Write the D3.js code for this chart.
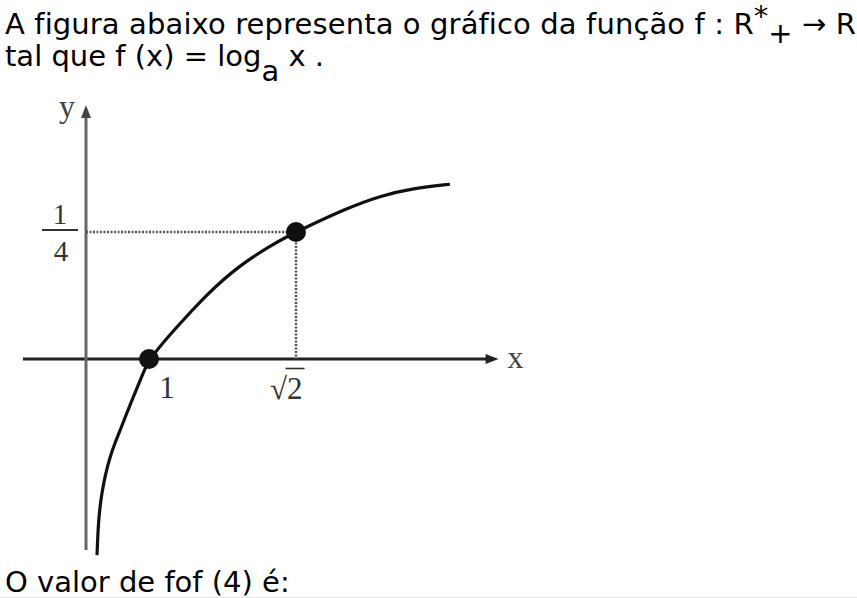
<!DOCTYPE html>
<html><head><meta charset="utf-8">
<script src="https://cdn.jsdelivr.net/npm/d3@7"></script>
<style>html,body{margin:0;padding:0;background:#fff;overflow:hidden}</style>
</head><body>
<script>
// ---- data (figure units: x along the horizontal axis, y = f(x)) ----
const curveX = [0.175, 0.190, 0.214, 0.254, 0.310, 0.381, 0.460, 0.556, 0.667, 0.778, 0.889, 1.000, 1.068, 1.163, 1.256, 1.349, 1.414, 1.558, 1.651, 1.744, 1.848];
const curveY = [-0.386, -0.337, -0.298, -0.262, -0.226, -0.193, -0.165, -0.136, -0.100, -0.067, -0.033, 0.000, 0.055, 0.128, 0.185, 0.226, 0.250, 0.297, 0.321, 0.336, 0.344];
const markedX = [1, Math.SQRT2];
const markedY = [0, 0.25];
const xTickLabels = ["1", "2"];          // "2" is drawn under a radical: √2
const yFracNum = "1", yFracDen = "4";
const xAxisExtent = [-1, 1.985];
const yAxisExtent = [-0.376, 0.5];
const axisNames = ["x", "y"];
const line1 = ["A figura abaixo representa o gráfico da função f : R", "*", "+", " → R"];
const line2 = ["tal que f (x) = log", "a", " x ."];
const line3 = "O valor de fof (4) é:";

const W = 857, H = 598;
const svg = d3.select("body").append("svg").attr("width", W).attr("height", H);

const x = d3.scaleLinear().domain([0, 1, Math.SQRT2]).range([86, 149, 296]);
const y = d3.scaleLinear().domain([0, 0.25]).range([359, 232]);

const sans = "'DejaVu Sans', sans-serif";
const serif = "'Liberation Serif', 'Times New Roman', serif";
const FS = 29;

// ---- text ----
const t1 = svg.append("text").attr("x", 5).attr("y", 34).attr("letter-spacing", 0.12)
  .attr("font-family", sans).attr("font-size", FS).attr("fill", "#000");
t1.append("tspan").text(line1[0]);
t1.append("tspan").attr("dy", -8).text(line1[1]);
t1.append("tspan").attr("dy", 17).text(line1[2]);
t1.append("tspan").attr("dy", -9).text(line1[3]);

const t2 = svg.append("text").attr("x", 5).attr("y", 66)
  .attr("font-family", sans).attr("font-size", FS).attr("fill", "#000");
t2.append("tspan").text(line2[0]);
t2.append("tspan").attr("dy", 15).text(line2[1]);
t2.append("tspan").attr("dy", -15).text(line2[2]);

svg.append("text").attr("x", 5).attr("y", 592)
  .attr("font-family", sans).attr("font-size", FS).attr("fill", "#000").text(line3);

svg.append("line").attr("x1", 0).attr("x2", W).attr("y1", 597.5).attr("y2", 597.5)
  .attr("stroke", "#e6e6e6").attr("stroke-width", 1);

// ---- axes ----
const x0 = x(0), y0 = y(0);
const xa1 = x(xAxisExtent[0]), xa2 = x(xAxisExtent[1]);
const ya1 = y(yAxisExtent[0]), ya2 = y(yAxisExtent[1]);

svg.append("line").attr("x1", xa1).attr("x2", xa2 - 8).attr("y1", y0).attr("y2", y0)
  .attr("stroke", "#222").attr("stroke-width", 3);
svg.append("path").attr("d", `M${xa2},${y0} L${xa2 - 13},${y0 - 5} L${xa2 - 13},${y0 + 5} Z`).attr("fill", "#222");

svg.append("line").attr("x1", x0).attr("x2", x0).attr("y1", ya1).attr("y2", ya2 + 8)
  .attr("stroke", "#666").attr("stroke-width", 3);
svg.append("path").attr("d", `M${x0},${ya2} L${x0 - 5},${ya2 + 13} L${x0 + 5},${ya2 + 13} Z`).attr("fill", "#444");

svg.append("text").attr("x", x(xAxisExtent[1]) + 9).attr("y", y0 + 9)
  .attr("font-family", serif).attr("font-size", 32).attr("fill", "#444").text(axisNames[0]);
svg.append("text").attr("x", x0 - 27).attr("y", ya2 + 12)
  .attr("font-family", serif).attr("font-size", 32).attr("fill", "#444").text(axisNames[1]);

// ---- guide (dotted) lines ----
svg.append("line").attr("x1", x0).attr("x2", x(markedX[1])).attr("y1", y(markedY[1])).attr("y2", y(markedY[1]))
  .attr("stroke", "#555").attr("stroke-width", 2.5).attr("stroke-dasharray", "2,1.5");
svg.append("line").attr("x1", x(markedX[1])).attr("x2", x(markedX[1])).attr("y1", y(markedY[1])).attr("y2", y0)
  .attr("stroke", "#555").attr("stroke-width", 2.5).attr("stroke-dasharray", "2,1.5");

// ---- curve ----
const pts = curveX.map((v, i) => [v, curveY[i]]);
svg.append("path").datum(pts)
  .attr("d", d3.line().x(d => x(d[0])).y(d => y(d[1])).curve(d3.curveBasis))
  .attr("fill", "none").attr("stroke", "#111").attr("stroke-width", 3.2);

svg.selectAll("circle.pt").data(markedX).enter().append("circle")
  .attr("cx", d => x(d)).attr("cy", (d, i) => y(markedY[i])).attr("r", 10).attr("fill", "#111");

// ---- tick labels ----
svg.append("text").attr("x", x(markedX[0]) + 18).attr("y", y0 + 39).attr("text-anchor", "middle")
  .attr("font-family", serif).attr("font-size", 31).attr("fill", "#333").text(xTickLabels[0]);

const rad = svg.append("text").attr("x", x(markedX[1]) - 9).attr("y", y0 + 40).attr("text-anchor", "end")
  .attr("font-family", serif).attr("font-size", 31).attr("fill", "#333").text("√");
const two = svg.append("text").attr("x", x(markedX[1]) - 9).attr("y", y0 + 40)
  .attr("font-family", serif).attr("font-size", 31).attr("fill", "#333").text(xTickLabels[1]);
const tb = two.node().getBBox(), rb = rad.node().getBBox();
svg.append("line").attr("x1", rb.x + rb.width - 1.5).attr("x2", tb.x + tb.width + 2)
  .attr("y1", y0 + 9.5).attr("y2", y0 + 9.5).attr("stroke", "#333").attr("stroke-width", 1.6);

// fraction 1/4 at y = 0.25
const fy = y(markedY[1]);
svg.append("text").attr("x", 60).attr("y", fy - 8).attr("text-anchor", "middle")
  .attr("font-family", serif).attr("font-size", 29).attr("fill", "#333").text(yFracNum);
svg.append("line").attr("x1", 42).attr("x2", 78).attr("y1", fy - 2).attr("y2", fy - 2)
  .attr("stroke", "#333").attr("stroke-width", 2);
svg.append("text").attr("x", 61).attr("y", fy + 29).attr("text-anchor", "middle")
  .attr("font-family", serif).attr("font-size", 29).attr("fill", "#333").text(yFracDen);
</script>
</body></html>
